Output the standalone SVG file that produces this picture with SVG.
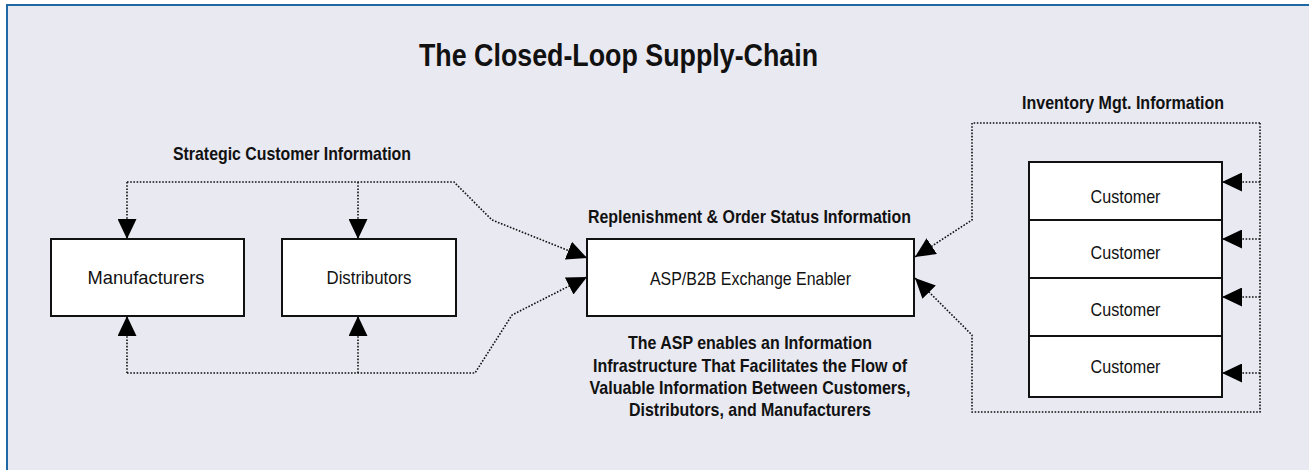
<svg xmlns="http://www.w3.org/2000/svg" width="1309" height="470" viewBox="0 0 1309 470">
<style>
.dot{fill:none;stroke:#111;stroke-width:1.6;stroke-dasharray:1.6 1.6}
.box{fill:#fff;stroke:#111;stroke-width:2}
.t{font-family:"Liberation Sans Narrow","Liberation Sans",Arial,sans-serif;font-size:19px;text-anchor:middle;fill:#111}
.b{font-weight:bold}
</style>
<defs>
<marker id="ah" viewBox="0 0 20 19" markerWidth="20" markerHeight="19" refX="20" refY="9.5" orient="auto" markerUnits="userSpaceOnUse">
<path d="M0,0 L20,9.5 L0,19 Z" fill="#000"/>
</marker>
</defs>
<rect x="0" y="0" width="1309" height="470" fill="#fff"/>
<rect x="6" y="4" width="1303" height="466" fill="#e9e9f2"/>
<path d="M6,5 H1309 M7,4 V470" fill="none" stroke="#1f68a3" stroke-width="2"/>
<text class="t b" x="618.5" y="66" style="font-size:32px" textLength="399" lengthAdjust="spacingAndGlyphs">The Closed-Loop Supply-Chain</text>
<g id="labels">
<text class="t b" x="292" y="160" textLength="238" lengthAdjust="spacingAndGlyphs">Strategic Customer Information</text>
<text class="t b" x="749.5" y="223" textLength="323" lengthAdjust="spacingAndGlyphs">Replenishment &amp; Order Status Information</text>
<text class="t b" x="1123" y="109" textLength="202" lengthAdjust="spacingAndGlyphs">Inventory Mgt. Information</text>
<text class="t b" x="750" y="349" textLength="244" lengthAdjust="spacingAndGlyphs">The ASP enables an Information</text>
<text class="t b" x="750" y="372" textLength="314" lengthAdjust="spacingAndGlyphs">Infrastructure That Facilitates the Flow of</text>
<text class="t b" x="750" y="394" textLength="321" lengthAdjust="spacingAndGlyphs">Valuable Information Between Customers,</text>
<text class="t b" x="750" y="416" textLength="242" lengthAdjust="spacingAndGlyphs">Distributors, and Manufacturers</text>
</g>
<g id="connectors">
<path class="dot" d="M127,182 H454 L492,220 L587,258" marker-end="url(#ah)"/>
<path class="dot" d="M127,182 V239" marker-end="url(#ah)"/>
<path class="dot" d="M358,182 V239" marker-end="url(#ah)"/>
<path class="dot" d="M127,373 H475 L512,315 L587,277" marker-end="url(#ah)"/>
<path class="dot" d="M127,373 V316" marker-end="url(#ah)"/>
<path class="dot" d="M358,373 V316" marker-end="url(#ah)"/>
<path class="dot" d="M1260,123 H972 V220 L915,257" marker-end="url(#ah)"/>
<path class="dot" d="M1260,123 V412 H972 V335 L915,278" marker-end="url(#ah)"/>
<path class="dot" d="M1260,182 H1222" marker-end="url(#ah)"/>
<path class="dot" d="M1260,239 H1222" marker-end="url(#ah)"/>
<path class="dot" d="M1260,297 H1222" marker-end="url(#ah)"/>
<path class="dot" d="M1260,373 H1222" marker-end="url(#ah)"/>
</g>
<g id="manufacturers">
<rect class="box" x="51" y="239" width="193" height="77"/>
<text class="t" x="146" y="284" textLength="117" lengthAdjust="spacingAndGlyphs">Manufacturers</text>
</g>
<g id="distributors">
<rect class="box" x="282" y="239" width="174" height="77"/>
<text class="t" x="369" y="284" textLength="85" lengthAdjust="spacingAndGlyphs">Distributors</text>
</g>
<g id="asp">
<rect class="box" x="587" y="239" width="327" height="77"/>
<text class="t" x="750.5" y="285" textLength="201" lengthAdjust="spacingAndGlyphs">ASP/B2B Exchange Enabler</text>
</g>
<g id="customer1">
<rect class="box" x="1029" y="162" width="193" height="58"/>
<text class="t" x="1125.5" y="203" textLength="70" lengthAdjust="spacingAndGlyphs">Customer</text>
</g>
<g id="customer2">
<rect class="box" x="1029" y="220" width="193" height="58"/>
<text class="t" x="1125.5" y="259" textLength="70" lengthAdjust="spacingAndGlyphs">Customer</text>
</g>
<g id="customer3">
<rect class="box" x="1029" y="278" width="193" height="58"/>
<text class="t" x="1125.5" y="316" textLength="70" lengthAdjust="spacingAndGlyphs">Customer</text>
</g>
<g id="customer4">
<rect class="box" x="1029" y="336" width="193" height="61"/>
<text class="t" x="1125.5" y="373" textLength="70" lengthAdjust="spacingAndGlyphs">Customer</text>
</g>
</svg>
